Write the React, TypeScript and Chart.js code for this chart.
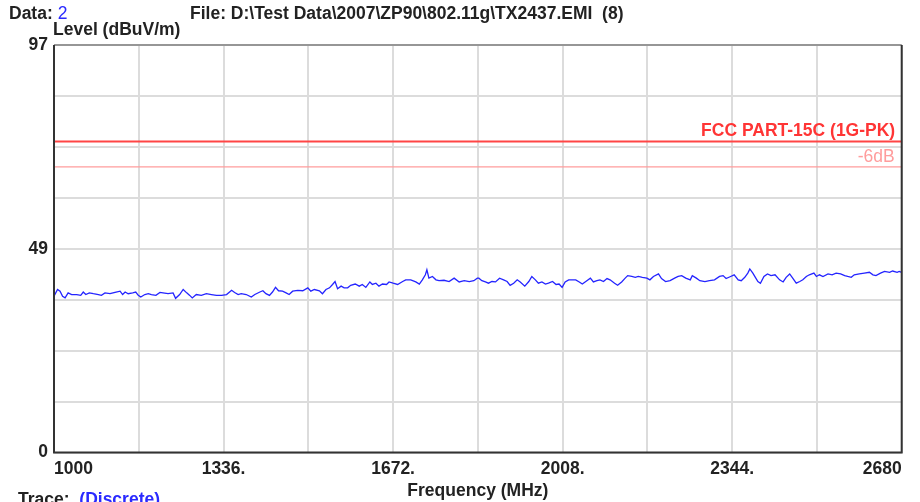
import React, { useEffect, useRef } from 'react';
import { Chart, registerables } from 'chart.js';

Chart.register(...registerables);

const FONT = '"Liberation Sans", Arial, Helvetica, sans-serif';

// Frequency (MHz) of each trace sample
const freqMHz = [
  1000, 1007, 1012, 1017, 1022, 1028, 1035, 1045, 1053, 1058,
  1063, 1070, 1078, 1088, 1094, 1101, 1111, 1121, 1131, 1136,
  1141, 1147, 1156, 1162, 1167, 1172, 1180, 1187, 1193, 1202,
  1210, 1216, 1226, 1236, 1241, 1249, 1256, 1263, 1269, 1274,
  1282, 1292, 1302, 1312, 1322, 1332, 1342, 1352, 1358, 1365,
  1371, 1381, 1391, 1398, 1408, 1414,
  1420, 1427, 1433, 1439, 1445, 1453, 1460, 1466, 1473, 1483,
  1493, 1503, 1509, 1516, 1526, 1532, 1539, 1546, 1552, 1557,
  1562, 1569, 1575, 1582, 1588, 1597, 1605, 1611, 1618, 1626,
  1631, 1638, 1644, 1651, 1659, 1664, 1672, 1681, 1691, 1697,
  1707, 1717, 1724, 1730, 1736, 1739, 1743, 1750, 1757, 1763,
  1773, 1783, 1793, 1803, 1813, 1823, 1832, 1839,
  1842, 1848, 1855, 1861, 1868, 1875, 1883, 1891, 1898, 1904,
  1911, 1918, 1924, 1933, 1941, 1947, 1954, 1960, 1967, 1974,
  1980, 1988, 1995, 2001, 2007, 2013, 2020, 2026, 2034, 2041,
  2047, 2056, 2063, 2069, 2076, 2082, 2089, 2096, 2102, 2111,
  2117, 2125, 2132, 2137, 2145, 2152, 2158, 2166, 2175, 2181,
  2188, 2198, 2204, 2212, 2221, 2230, 2237, 2244, 2252, 2261,
  2265, 2273, 2280, 2290, 2299, 2309, 2319, 2326, 2332, 2341,
  2348, 2356, 2362, 2369, 2375, 2379, 2385, 2390, 2395, 2400,
  2407, 2414, 2421, 2429, 2438, 2445, 2451, 2458, 2464, 2471,
  2478, 2484, 2491, 2497, 2506, 2511, 2517, 2524, 2534, 2542,
  2550, 2559, 2567, 2573, 2580, 2586, 2596, 2606, 2616, 2623,
  2629, 2638, 2646, 2656, 2662, 2671, 2675, 2680,
];

// Measured level (dBuV/m)
const levelDbuv = [
  37.2, 38.8, 38.4, 37.2, 36.8, 38.0, 37.6, 37.6, 37.4, 38.2,
  37.6, 38.0, 37.8, 37.6, 37.4, 38.0, 37.8, 38.1, 38.4, 37.6,
  38.2, 37.8, 38.0, 38.2, 37.4, 37.0, 37.6, 37.8, 37.6, 37.4,
  38.1, 38.0, 37.8, 38.0, 36.7, 37.6, 38.8, 38.0, 37.4, 36.8,
  37.6, 37.4, 37.8, 37.6, 37.4, 37.4, 37.6, 38.6, 38.1, 37.6,
  37.8, 37.6, 37.0, 37.6, 38.2, 38.5,
  37.8, 37.4, 38.2, 39.3, 38.5, 38.4, 38.0, 37.6, 38.4, 38.6,
  38.5, 39.2, 38.4, 38.8, 38.5, 37.8, 38.8, 39.2, 40.0, 40.7,
  39.0, 39.6, 39.2, 39.2, 39.8, 40.1, 39.6, 40.0, 39.3, 40.6,
  40.0, 40.3, 39.6, 40.1, 40.0, 40.6, 40.3, 40.0, 40.7, 41.1,
  41.1, 40.6, 40.1, 41.1, 42.3, 43.5, 41.5, 41.9, 41.1, 40.9,
  41.0, 40.7, 41.5, 40.6, 40.9, 40.7, 40.9, 41.5,
  41.5, 40.9, 40.6, 40.3, 40.7, 40.6, 41.5, 41.1, 40.7, 39.8,
  40.3, 41.1, 40.6, 39.6, 40.7, 41.9, 41.1, 40.3, 40.6, 40.1,
  40.3, 40.7, 40.0, 40.1, 39.3, 40.6, 41.1, 41.1, 41.1, 40.6,
  40.1, 40.9, 41.5, 40.6, 40.9, 41.1, 40.7, 41.4, 41.1, 40.3,
  39.8, 40.6, 41.5, 42.1, 41.9, 41.7, 41.9, 41.7, 41.5, 41.1,
  41.9, 42.5, 41.4, 40.7, 40.9, 41.5, 41.9, 42.1, 41.5, 41.1,
  42.1, 41.5, 40.9, 40.7, 40.9, 41.1, 41.9, 42.1, 41.4, 41.9,
  42.3, 41.1, 40.9, 41.7, 42.7, 43.7, 42.7, 41.7, 40.7, 40.3,
  41.9, 42.5, 42.1, 42.3, 41.1, 40.6, 41.7, 42.5, 41.5, 40.3,
  40.7, 41.1, 41.9, 42.3, 42.7, 41.9, 42.3, 41.9, 42.5, 42.3,
  42.7, 42.5, 42.1, 41.9, 41.7, 42.3, 42.5, 42.7, 42.9, 42.3,
  42.1, 42.7, 43.1, 42.9, 43.2, 42.9, 43.1, 42.9,
];

const fccLimitLevel = 74;
const marginLevel = 68;
const fccLimitLabel = 'FCC PART-15C (1G-PK)';
const marginLabel = '-6dB';

const xMin = 1000;
const xMax = 2680;
const xTickValues = [1000, 1168, 1336, 1504, 1672, 1840, 2008, 2176, 2344, 2512, 2680];
const xTickLabels = ['1000', '', '1336.', '', '1672.', '', '2008.', '', '2344.', '', '2680'];

const yMin = 0;
const yMax = 97;
const yTickValues = [0, 12.125, 24.25, 36.375, 48.5, 60.625, 72.75, 84.875, 97];
const yTickLabels = ['0', '', '', '', '49', '', '', '', '97'];

const frameAndLabels = {
  id: 'frameAndLabels',
  afterDatasetsDraw(chart: any) {
    const { ctx, chartArea, scales } = chart;
    const y = scales.y;
    ctx.save();
    ctx.textAlign = 'right';
    ctx.textBaseline = 'alphabetic';
    ctx.font = `bold 17.5px ${FONT}`;
    ctx.fillStyle = '#ff3535';
    ctx.fillText(fccLimitLabel, chartArea.right - 6.5, y.getPixelForValue(fccLimitLevel) - 5.5);
    ctx.font = `17.5px ${FONT}`;
    ctx.fillStyle = '#ff9c9c';
    ctx.fillText(marginLabel, chartArea.right - 7, y.getPixelForValue(marginLevel) - 4.5);
    ctx.restore();
  },
  afterDraw(chart: any) {
    const { ctx, chartArea } = chart;
    const { left, right, top, bottom } = chartArea;
    ctx.save();
    ctx.strokeStyle = '#505050';
    ctx.lineWidth = 1.2;
    ctx.beginPath();
    ctx.moveTo(left, top);
    ctx.lineTo(right, top);
    ctx.stroke();
    ctx.strokeStyle = '#333333';
    ctx.lineWidth = 2;
    ctx.beginPath();
    ctx.moveTo(left, top);
    ctx.lineTo(left, bottom);
    ctx.lineTo(right, bottom);
    ctx.lineTo(right, top);
    ctx.stroke();
    ctx.restore();
  },
};

export default function App() {
  const canvasRef = useRef<HTMLCanvasElement | null>(null);

  useEffect(() => {
    if (!canvasRef.current) return;
    const tracePoints = freqMHz.map((f, i) => ({ x: f, y: levelDbuv[i] }));
    const chart = new Chart(canvasRef.current, {
      type: 'line',
      data: {
        datasets: [
          {
            label: 'Trace',
            data: tracePoints,
            borderColor: '#2424ff',
            borderWidth: 1.3,
            pointRadius: 0,
            tension: 0,
            order: 0,
          },
          {
            label: fccLimitLabel,
            data: [
              { x: xMin, y: fccLimitLevel },
              { x: xMax, y: fccLimitLevel },
            ],
            borderColor: '#ff4545',
            borderWidth: 2,
            pointRadius: 0,
            order: 1,
          },
          {
            label: marginLabel,
            data: [
              { x: xMin, y: marginLevel },
              { x: xMax, y: marginLevel },
            ],
            borderColor: '#ff9c9c',
            borderWidth: 1.4,
            pointRadius: 0,
            order: 2,
          },
        ],
      },
      options: {
        responsive: false,
        animation: false,
        devicePixelRatio: 1,
        layout: { padding: { top: 45, right: 18.3, left: 0, bottom: 0 } },
        plugins: {
          legend: { display: false },
          tooltip: { enabled: false },
        },
        scales: {
          x: {
            type: 'linear',
            min: xMin,
            max: xMax,
            afterBuildTicks: (s: any) => {
              s.ticks = xTickValues.map((v) => ({ value: v }));
            },
            afterFit: (s: any) => {
              s.height = 49.5;
            },
            ticks: {
              autoSkip: false,
              maxRotation: 0,
              align: 'inner',
              padding: 6,
              color: '#222222',
              font: { family: FONT, size: 17.5, weight: 'bold' },
              callback: (_v: any, i: number) => xTickLabels[i],
            },
            grid: { color: '#dcdcdc', lineWidth: 2, drawTicks: false },
            border: { display: false },
            title: {
              display: true,
              text: 'Frequency (MHz)',
              color: '#222222',
              font: { family: FONT, size: 17.5, weight: 'bold' },
              padding: { top: 0, bottom: 0.5 },
            },
          },
          y: {
            type: 'linear',
            min: yMin,
            max: yMax,
            afterBuildTicks: (s: any) => {
              s.ticks = yTickValues.map((v) => ({ value: v }));
            },
            afterFit: (s: any) => {
              s.width = 54;
            },
            ticks: {
              autoSkip: false,
              padding: 6,
              color: '#222222',
              font: { family: FONT, size: 17.5, weight: 'bold' },
              callback: (_v: any, i: number) => yTickLabels[i],
            },
            grid: { color: '#dcdcdc', lineWidth: 2, drawTicks: false },
            border: { display: false },
          },
        },
      },
      plugins: [frameAndLabels],
    } as any);
    return () => chart.destroy();
  }, []);

  const textBase: React.CSSProperties = {
    position: 'absolute',
    fontFamily: FONT,
    fontSize: '17.5px',
    fontWeight: 'bold',
    lineHeight: '17.5px',
    whiteSpace: 'pre',
    color: '#222222',
  };

  return (
    <div
      style={{
        position: 'absolute',
        left: 0,
        top: 0,
        width: 920,
        height: 502,
        overflow: 'hidden',
        background: '#ffffff',
      }}
    >
      <canvas ref={canvasRef} width={920} height={502} style={{ position: 'absolute', left: 0, top: 0 }} />
      <div style={{ ...textBase, left: 9, top: 5 }}>
        Data: <span style={{ color: '#2a2aff', fontWeight: 'normal' }}>2</span>
      </div>
      <div style={{ ...textBase, left: 190, top: 5 }}>
        {'File: D:\\Test Data\\2007\\ZP90\\802.11g\\TX2437.EMI  (8)'}
      </div>
      <div style={{ ...textBase, left: 53, top: 21 }}>Level (dBuV/m)</div>
      <div style={{ ...textBase, left: 18, top: 491 }}>
        Trace: <span style={{ color: '#2a2aff' }}> (Discrete)</span>
      </div>
    </div>
  );
}
